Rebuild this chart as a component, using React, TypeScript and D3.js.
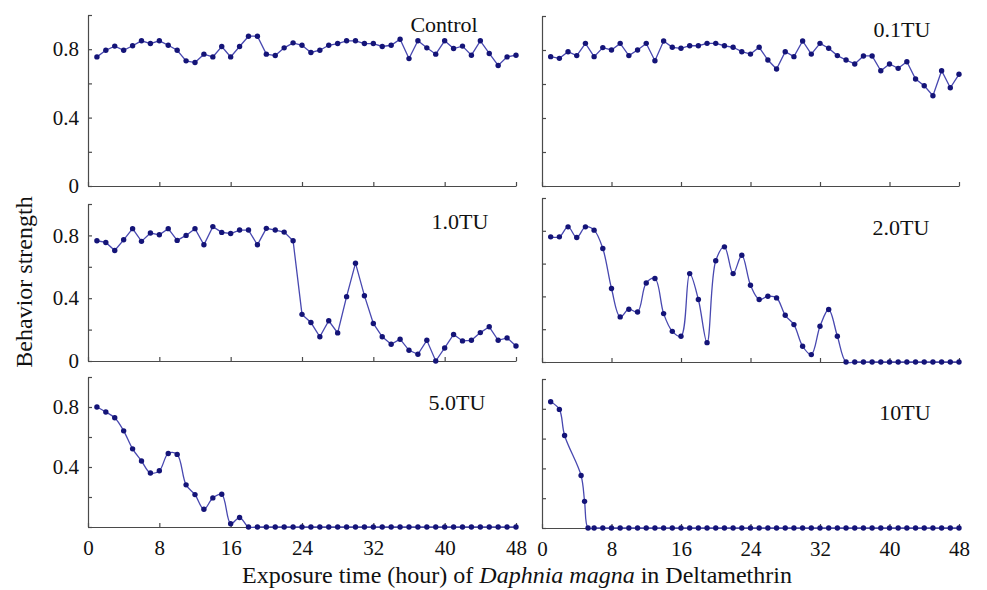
import React, { useEffect, useRef } from 'react'
import * as d3 from 'd3'

// hours of exposure (one reading per hour)
const hours = [1, 2, 3, 4, 5, 6, 7, 8, 9, 10, 11, 12, 13, 14, 15, 16, 17, 18, 19, 20, 21, 22, 23, 24,
  25, 26, 27, 28, 29, 30, 31, 32, 33, 34, 35, 36, 37, 38, 39, 40, 41, 42, 43, 44, 45, 46, 47, 48]

const control = [0.755, 0.794, 0.818, 0.794, 0.82, 0.849, 0.833, 0.849, 0.823, 0.794, 0.732, 0.722,
  0.771, 0.755, 0.816, 0.755, 0.816, 0.876, 0.876, 0.771, 0.763, 0.808, 0.837, 0.823,
  0.781, 0.794, 0.823, 0.833, 0.849, 0.849, 0.833, 0.833, 0.816, 0.823, 0.858, 0.745,
  0.849, 0.808, 0.771, 0.849, 0.804, 0.818, 0.765, 0.849, 0.775, 0.705, 0.755, 0.765]

const tu01 = [0.761, 0.751, 0.79, 0.767, 0.839, 0.761, 0.814, 0.8, 0.839, 0.767, 0.8, 0.839,
  0.737, 0.853, 0.816, 0.81, 0.825, 0.825, 0.839, 0.839, 0.825, 0.816, 0.79, 0.776,
  0.816, 0.741, 0.688, 0.79, 0.761, 0.853, 0.776, 0.839, 0.81, 0.767, 0.741, 0.718,
  0.765, 0.765, 0.678, 0.718, 0.692, 0.731, 0.629, 0.59, 0.531, 0.678, 0.578, 0.657]

const tu10 = [0.766, 0.755, 0.704, 0.772, 0.843, 0.762, 0.815, 0.804, 0.843, 0.768, 0.8, 0.843,
  0.74, 0.856, 0.819, 0.812, 0.834, 0.834, 0.74, 0.845, 0.834, 0.821, 0.766, 0.297,
  0.245, 0.154, 0.256, 0.179, 0.41, 0.623, 0.416, 0.239, 0.154, 0.107, 0.139, 0.068,
  0.043, 0.132, 0.0, 0.083, 0.169, 0.128, 0.132, 0.181, 0.218, 0.132, 0.147, 0.096]

const tu20 = [0.763, 0.763, 0.824, 0.759, 0.824, 0.804, 0.692, 0.448, 0.275, 0.322, 0.305, 0.482,
  0.509, 0.295, 0.187, 0.157, 0.539, 0.381, 0.118, 0.617, 0.702, 0.539, 0.651, 0.468,
  0.381, 0.401, 0.391, 0.285, 0.228, 0.096, 0.045, 0.218, 0.32, 0.157, 0, 0,
  0, 0, 0, 0, 0, 0, 0, 0, 0, 0, 0, 0]

const tu50 = [0.8, 0.767, 0.728, 0.641, 0.521, 0.44, 0.36, 0.375, 0.49, 0.484, 0.281, 0.216,
  0.118, 0.194, 0.218, 0.022, 0.063, 0, 0, 0, 0, 0, 0, 0,
  0, 0, 0, 0, 0, 0, 0, 0, 0, 0, 0, 0,
  0, 0, 0, 0, 0, 0, 0, 0, 0, 0, 0, 0]

// 10TU was sampled more densely during the first hours
const hours100 = [1, 2, 2.6, 4.5, 4.9, 5.3, 6, 7, 8, 9, 10, 11, 12, 13, 14, 15, 16, 17, 18, 19, 20, 21, 22, 23, 24,
  25, 26, 27, 28, 29, 30, 31, 32, 33, 34, 35, 36, 37, 38, 39, 40, 41, 42, 43, 44, 45, 46, 47, 48]
const tu100 = [0.847, 0.796, 0.621, 0.352, 0.179, 0, 0, 0, 0, 0, 0, 0, 0, 0, 0, 0, 0, 0, 0, 0, 0, 0, 0, 0, 0,
  0, 0, 0, 0, 0, 0, 0, 0, 0, 0, 0, 0, 0, 0, 0, 0, 0, 0, 0, 0, 0, 0, 0, 0]

const xTicks = [0, 8, 16, 24, 32, 40, 48]
const yTicks = [0, 0.2, 0.4, 0.6, 0.8, 1.0]

const panels = [
  { name: 'Control', xs: hours, ys: control, x0: 88, x1: 516, y0: 186, y1: 15, smooth: false, yLab: [0, 0.4, 0.8], xLab: false, lx: 444, ly: 32 },
  { name: '0.1TU', xs: hours, ys: tu01, x0: 542, x1: 959, y0: 186, y1: 16, smooth: false, yLab: [], xLab: false, lx: 902, ly: 37 },
  { name: '1.0TU', xs: hours, ys: tu10, x0: 88, x1: 516, y0: 361, y1: 204, smooth: false, yLab: [0, 0.4, 0.8], xLab: false, lx: 460, ly: 229 },
  { name: '2.0TU', xs: hours, ys: tu20, x0: 542, x1: 959, y0: 362, y1: 198, smooth: true, yLab: [], xLab: false, lx: 901, ly: 235 },
  { name: '5.0TU', xs: hours, ys: tu50, x0: 88, x1: 516, y0: 527, y1: 377, smooth: true, yLab: [0.4, 0.8], xLab: true, lx: 457, ly: 410 },
  { name: '10TU', xs: hours100, ys: tu100, x0: 542, x1: 959, y0: 528, y1: 379, smooth: true, yLab: [], xLab: true, lx: 905, ly: 420 },
]

const FONT = '"Liberation Serif", "Times New Roman", serif'

const App = () => {
  const svgRef = useRef(null)

  useEffect(() => {
    const svg = d3.select(svgRef.current)
    svg.selectAll('*').remove()

    panels.forEach(p => {
      const x = d3.scaleLinear().domain([0, 48]).range([p.x0, p.x1])
      const y = d3.scaleLinear().domain([0, 1]).range([p.y0, p.y1])
      const g = svg.append('g')

      // y axis, ticks pointing inward
      const yAxis = d3.axisLeft(y)
        .tickValues(yTicks)
        .tickSizeInner(-4)
        .tickSizeOuter(0)
        .tickPadding(9)
        .tickFormat(d => p.yLab.some(v => Math.abs(v - d) < 1e-6) ? (d === 0 ? '0' : d3.format('.1f')(d)) : '')
      g.append('g').attr('transform', `translate(${p.x0},0)`).call(yAxis)

      const xAxis = d3.axisBottom(x)
        .tickValues(xTicks)
        .tickSizeInner(-4)
        .tickSizeOuter(0)
        .tickPadding(13)
        .tickFormat(d => p.xLab ? String(d) : '')
      g.append('g').attr('transform', `translate(0,${p.y0})`).call(xAxis)

      g.selectAll('.domain, .tick line').attr('stroke', '#4a4a4a').attr('stroke-width', 1.2)
      g.selectAll('.tick text')
        .attr('font-family', FONT)
        .attr('font-size', 21)
        .attr('fill', '#111')

      const pts = p.xs.map((h, i) => [h, p.ys[i]])
      const line = d3.line()
        .x(d => x(d[0]))
        .y(d => y(d[1]))
        .curve(p.smooth ? d3.curveCatmullRom.alpha(0.5) : d3.curveLinear)

      g.append('path')
        .datum(pts)
        .attr('d', line)
        .attr('fill', 'none')
        .attr('stroke', '#4848b0')
        .attr('stroke-width', 1.3)

      g.selectAll('.pt')
        .data(pts)
        .join('circle')
        .attr('cx', d => x(d[0]))
        .attr('cy', d => y(d[1]))
        .attr('r', 2.7)
        .attr('fill', '#141478')

      g.append('text')
        .attr('x', p.lx)
        .attr('y', p.ly)
        .attr('text-anchor', 'middle')
        .attr('font-family', FONT)
        .attr('font-size', 22)
        .attr('fill', '#111')
        .text(p.name)
    })

    svg.append('text')
      .attr('transform', 'translate(32,282) rotate(-90)')
      .attr('text-anchor', 'middle')
      .attr('font-family', FONT)
      .attr('font-size', 24)
      .attr('fill', '#111')
      .text('Behavior strength')

    const xl = svg.append('text')
      .attr('x', 517)
      .attr('y', 583)
      .attr('text-anchor', 'middle')
      .attr('font-family', FONT)
      .attr('font-size', 24)
      .attr('fill', '#111')
    xl.append('tspan').text('Exposure time (hour) of ')
    xl.append('tspan').attr('font-style', 'italic').text('Daphnia magna')
    xl.append('tspan').text(' in Deltamethrin')
  }, [])

  return (
    <svg ref={svgRef} width={987} height={590}
      style={{ position: 'absolute', left: 0, top: 0, background: '#fff' }} />
  )
}

export default App
